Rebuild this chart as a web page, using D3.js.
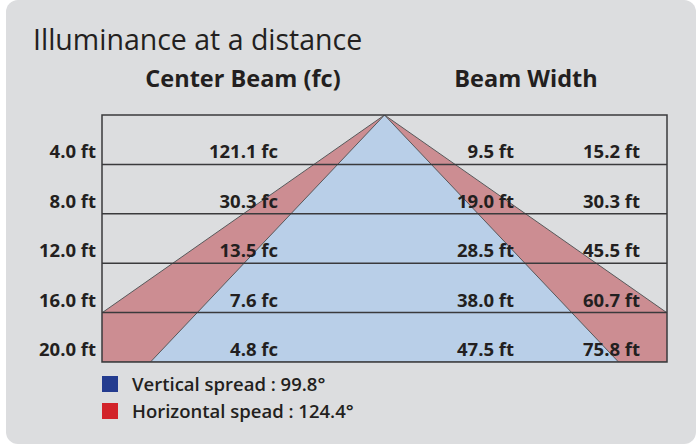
<html>
<head>
<style>
  body { margin: 0; background: #ffffff; }
  text { font-family: "Open Sans", "Noto Sans", sans-serif; fill: #231f20; }
  .bold { font-weight: 700; }
</style>
</head>
<body>
<script src="https://cdn.jsdelivr.net/npm/d3@7"></script>
<script>
// distances (ft) and the values shown in each row
var distances = [4, 8, 12, 16, 20];
var centerBeam = [121.1, 30.3, 13.5, 7.6, 4.8];
var verticalWidth = [9.5, 19.0, 28.5, 38.0, 47.5];
var horizontalWidth = [15.2, 30.3, 45.5, 60.7, 75.8];
var spreads = ["Vertical spread : 99.8°", "Horizontal spead : 124.4°"];
var spreadColors = ["#233b8f", "#d2232a"];
// cone widths at 20 ft, as they are drawn in the picture (ft)
var coneWidth = {vertical: 47.5, horizontal: 71.6};

var W = 696, H = 444;
var box = {left: 102, right: 667, top: 115, bottom: 362};

var svg = d3.select("body").append("svg")
    .attr("width", W).attr("height", H);

// grey panel
svg.append("rect")
    .attr("x", 6).attr("y", 0).attr("width", 690).attr("height", 444)
    .attr("rx", 12).attr("fill", "#dcdddf");

svg.append("text").attr("x", 33).attr("y", 50)
    .style("font-size", "28.5px").text("Illuminance at a distance");

svg.append("text").attr("class", "bold").attr("x", 243).attr("y", 87)
    .attr("text-anchor", "middle").style("font-size", "23.5px").text("Center Beam (fc)");
svg.append("text").attr("class", "bold").attr("x", 526).attr("y", 87)
    .attr("text-anchor", "middle").style("font-size", "23.5px").text("Beam Width");

// scales
var y = d3.scaleLinear().domain([0, 20]).range([box.top, box.bottom]);
var x = d3.scaleLinear().domain([-28.67, 28.67]).range([box.left, box.right]);

svg.append("clipPath").attr("id", "clip")
  .append("rect")
    .attr("x", box.left).attr("y", box.top)
    .attr("width", box.right - box.left).attr("height", box.bottom - box.top);

var cone = function(w){
  return [[x(0), y(0)], [x(-w / 2), y(20)], [x(w / 2), y(20)]];
};
var line = d3.line();
var g = svg.append("g").attr("clip-path", "url(#clip)");
g.append("path").attr("d", line(cone(coneWidth.horizontal)) + "Z")
    .attr("fill", "#cc8d92").attr("stroke", "#58595b").attr("stroke-width", 1);
g.append("path").attr("d", line(cone(coneWidth.vertical)) + "Z")
    .attr("fill", "#b9cfe8").attr("stroke", "#58595b").attr("stroke-width", 1);

// row lines
svg.selectAll(".row").data(distances.slice(0, -1)).enter().append("line")
    .attr("x1", box.left).attr("x2", box.right)
    .attr("y1", function(d){ return y(d); }).attr("y2", function(d){ return y(d); })
    .attr("stroke", "#3a3a3c").attr("stroke-width", 1.5);
svg.append("rect")
    .attr("x", box.left).attr("y", box.top)
    .attr("width", box.right - box.left).attr("height", box.bottom - box.top)
    .attr("fill", "none").attr("stroke", "#3a3a3c").attr("stroke-width", 1.5);

// row texts
var cols = [
  {vals: distances.map(function(d){ return d.toFixed(1) + " ft"; }), x: 96},
  {vals: centerBeam.map(function(d){ return d.toFixed(1) + " fc"; }), x: 278},
  {vals: verticalWidth.map(function(d){ return d.toFixed(1) + " ft"; }), x: 514},
  {vals: horizontalWidth.map(function(d){ return d.toFixed(1) + " ft"; }), x: 640}
];
cols.forEach(function(c){
  svg.selectAll(null).data(c.vals).enter().append("text")
      .attr("class", "bold")
      .attr("x", c.x)
      .attr("y", function(d, i){ return y(distances[i]) - 6; })
      .attr("text-anchor", "end")
      .style("font-size", "18.5px")
      .text(function(d){ return d; });
});

// legend
var leg = svg.selectAll(".leg").data(spreads).enter().append("g")
    .attr("transform", function(d, i){ return "translate(102," + (376 + i * 27) + ")"; });
leg.append("rect").attr("width", 16).attr("height", 16)
    .attr("fill", function(d, i){ return spreadColors[i]; });
leg.append("text").attr("x", 30).attr("y", 15)
    .style("font-size", "18.5px").style("font-weight", 600)
    .text(function(d){ return d; });
</script>
</body>
</html>
